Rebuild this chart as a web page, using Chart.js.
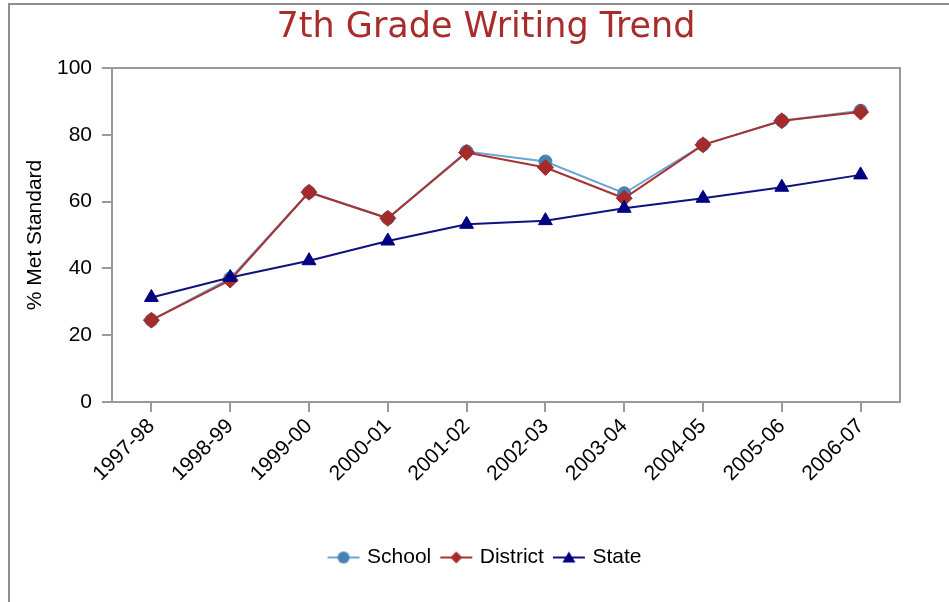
<!DOCTYPE html>
<html>
<head>
<meta charset="utf-8">
<script src="https://cdn.jsdelivr.net/npm/chart.js@4/dist/chart.umd.min.js"></script>
<style>
  html, body { margin: 0; padding: 0; background: #fff; overflow: hidden; }
  #frame { position: absolute; left: 8px; top: 3px; width: 1000px; height: 700px;
           border-left: 2px solid #8e8e8e; border-top: 2px solid #8e8e8e; }
  #c { position: absolute; left: 0; top: 0; }
</style>
</head>
<body>
<div id="frame"></div>
<canvas id="c" width="949" height="602"></canvas>
<script>
const categories = ['1997-98','1998-99','1999-00','2000-01','2001-02','2002-03','2003-04','2004-05','2005-06','2006-07'];
const schoolValues   = [24.5, 37.0, 62.8, 55.0, 75.0, 72.0, 62.5, 77.0, 84.2, 87.2];
const districtValues = [24.5, 36.5, 62.8, 55.0, 74.7, 70.2, 61.0, 77.0, 84.2, 86.8];
const stateValues    = [31.3, 37.3, 42.3, 48.2, 53.2, 54.3, 58.0, 61.0, 64.3, 68.0];
const yTicks = [0, 20, 40, 60, 80, 100];

const FONT = "'Liberation Sans', Arial, sans-serif";

function legendIcon(lineColor, fill, style) {
  const cv = document.createElement('canvas');
  cv.width = 36; cv.height = 16;
  const g = cv.getContext('2d');
  g.strokeStyle = lineColor; g.lineWidth = 2;
  g.beginPath(); g.moveTo(2, 8); g.lineTo(34, 8); g.stroke();
  g.fillStyle = fill;
  g.beginPath();
  if (style === 'circle') { g.arc(18, 8, 6, 0, Math.PI * 2); }
  else if (style === 'rectRot') { g.moveTo(18, 2); g.lineTo(24, 8); g.lineTo(18, 14); g.lineTo(12, 8); g.closePath(); }
  else { g.moveTo(18, 2); g.lineTo(24.5, 13); g.lineTo(11.5, 13); g.closePath(); }
  g.fill();
  return cv;
}

const series = [
  { label: 'School',   data: schoolValues,   line: '#6aa6d2', fill: '#4682b4', style: 'circle',  r: 6.5, order: 2 },
  { label: 'District', data: districtValues, line: '#a83232', fill: '#a52a2a', style: 'rectRot', r: 8,   order: 1 },
  { label: 'State',    data: stateValues,    line: '#101080', fill: '#000080', style: 'triangle',r: 8,   order: 0 }
];

const frameRect = {
  id: 'frameRect',
  afterDatasetsDraw(chart) {
    const a = chart.chartArea, ctx = chart.ctx;
    ctx.save();
    ctx.strokeStyle = '#999999';
    ctx.lineWidth = 2;
    ctx.strokeRect(a.left, a.top, a.right - a.left, a.bottom - a.top);
    ctx.restore();
  }
};

new Chart(document.getElementById('c'), {
  type: 'line',
  data: {
    labels: categories,
    datasets: series.map(s => ({
      label: s.label,
      data: s.data,
      borderColor: s.line,
      borderWidth: 2,
      backgroundColor: s.fill,
      pointStyle: s.style,
      pointRadius: s.r,
      pointHoverRadius: s.r,
      pointBackgroundColor: s.fill,
      pointBorderColor: s.fill,
      pointBorderWidth: 1,
      tension: 0,
      fill: false,
      order: s.order,
      yAxisID: 'y'
    }))
  },
  options: {
    responsive: false,
    animation: false,
    events: [],
    layout: { padding: { left: 23, right: 0, top: 0, bottom: 24 } },
    plugins: {
      title: {
        display: true,
        text: '7th Grade Writing Trend',
        color: '#a82c2c',
        font: { family: "'DejaVu Sans', Verdana, sans-serif", size: 35, weight: 'normal' },
        padding: { top: 7, bottom: 19 }
      },
      legend: {
        position: 'bottom',
        labels: {
          usePointStyle: true,
          pointStyleWidth: 26,
          padding: 12,
          color: '#000',
          font: { family: FONT, size: 21 },
          generateLabels: () => series.map((s, i) => ({
            text: s.label,
            fillStyle: s.fill,
            strokeStyle: s.fill,
            lineWidth: 0,
            pointStyle: legendIcon(s.line, s.fill, s.style),
            hidden: false,
            datasetIndex: i,
            fontColor: '#000'
          }))
        }
      },
      tooltip: { enabled: false }
    },
    scales: {
      x: {
        offset: true,
        grid: { display: true, drawOnChartArea: false, offset: false, tickLength: 10, color: '#999', lineWidth: 2 },
        border: { display: false },
        ticks: { color: '#000', font: { family: FONT, size: 21 }, minRotation: 45, maxRotation: 45, autoSkip: false, padding: 2 },
        afterFit(scale) { scale.height = 133; }
      },
      y: {
        position: 'left',
        min: 0, max: 100,
        afterBuildTicks(scale) { scale.ticks = yTicks.map(v => ({ value: v })); },
        grid: { display: true, drawOnChartArea: false, tickLength: 10, color: '#999', lineWidth: 2 },
        border: { display: false },
        ticks: { color: '#000', font: { family: FONT, size: 21 }, padding: 10 },
        title: { display: true, text: '% Met Standard', color: '#000', font: { family: FONT, size: 21 }, padding: { top: 0, bottom: 0 } },
        afterFit(scale) { scale.width = 89; }
      },
      yRight: {
        position: 'right',
        display: true,
        min: 0, max: 100,
        grid: { display: false },
        border: { display: false },
        ticks: { display: false },
        afterFit(scale) { scale.width = 49; }
      }
    }
  },
  plugins: [frameRect]
});
</script>
</body>
</html>
